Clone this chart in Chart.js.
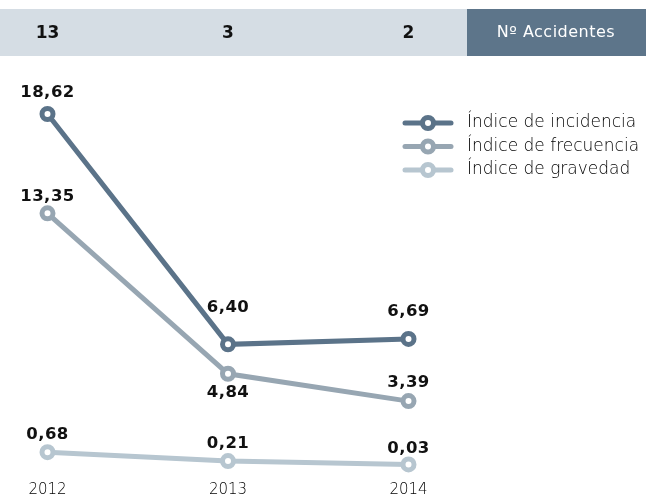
<!DOCTYPE html>
<html>
<head>
<meta charset="utf-8">
<script src="https://cdn.jsdelivr.net/npm/chart.js@4"></script>
<style>
  html, body { margin: 0; padding: 0; background: #ffffff; }
  #wrap { position: relative; width: 646px; height: 497px; }
</style>
</head>
<body>
<div id="wrap"><canvas id="c"></canvas></div>
<script>
// ---- data ----
const years = ['2012', '2013', '2014'];
const accidentes = [13, 3, 2];
const incidencia = [18.62, 6.40, 6.69];
const frecuencia = [13.35, 4.84, 3.39];
const gravedad = [0.68, 0.21, 0.03];
const seriesNames = ['Índice de incidencia', 'Índice de frecuencia', 'Índice de gravedad'];
const headerTitle = 'Nº Accidentes';

// ---- style ----
const colors = ['#5b7389', '#97a6b2', '#b7c6d0'];
const labelOffsets = [[-21, -37, -27], [-17, 19, -18], [-17, -17, -16]];
const fmt = v => v.toFixed(2).replace('.', ',');

const overlay = {
  id: 'overlay',
  beforeDraw(chart) {
    const ctx = chart.ctx;
    const xs = chart.scales.x;
    ctx.save();
    ctx.fillStyle = '#ffffff';
    ctx.fillRect(0, 0, chart.width, chart.height);
    // header band
    ctx.fillStyle = '#d5dde4';
    ctx.fillRect(0, 9, chart.width, 47);
    ctx.fillStyle = '#5d758a';
    ctx.fillRect(467, 9, chart.width - 467, 47);
    ctx.textAlign = 'center';
    ctx.textBaseline = 'middle';
    ctx.fillStyle = '#111111';
    ctx.font = 'bold 17px "DejaVu Sans"';
    accidentes.forEach((v, i) => {
      ctx.fillText(String(v), xs.getPixelForValue(i), 34);
    });
    ctx.fillStyle = '#ffffff';
    ctx.font = '16px "DejaVu Sans"';
    ctx.letterSpacing = '0.5px';
    ctx.fillText(headerTitle, 556, 33);
    ctx.restore();
  },
  afterDatasetsDraw(chart) {
    const ctx = chart.ctx;
    ctx.save();
    // value labels
    ctx.textAlign = 'center';
    ctx.textBaseline = 'middle';
    ctx.fillStyle = '#111111';
    ctx.font = 'bold 16.5px "DejaVu Sans"';
    ctx.letterSpacing = '0.5px';
    chart.data.datasets.forEach((ds, di) => {
      const meta = chart.getDatasetMeta(di);
      meta.data.forEach((pt, i) => {
        ctx.fillText(fmt(ds.data[i]), pt.x, pt.y + labelOffsets[di][i]);
      });
    });
    // legend
    ctx.letterSpacing = '0px';
    ctx.textAlign = 'left';
    chart.data.datasets.forEach((ds, di) => {
      const y = 123 + di * 23.5;
      ctx.strokeStyle = ds.borderColor;
      ctx.lineWidth = 5;
      ctx.lineCap = 'round';
      ctx.beginPath();
      ctx.moveTo(405, y);
      ctx.lineTo(451, y);
      ctx.stroke();
      ctx.beginPath();
      ctx.arc(428, y, 5.5, 0, Math.PI * 2);
      ctx.fillStyle = '#ffffff';
      ctx.fill();
      ctx.stroke();
      ctx.fillStyle = '#000000';
      ctx.font = '200 17px "DejaVu Sans"';
      ctx.fillText(ds.label, 467, y);
    });
    ctx.restore();
  }
};

const series = [incidencia, frecuencia, gravedad];
new Chart(document.getElementById('c'), {
  type: 'line',
  data: {
    labels: years,
    datasets: series.map((d, i) => ({
      label: seriesNames[i],
      data: d,
      borderColor: colors[i],
      backgroundColor: '#ffffff',
      pointBackgroundColor: '#ffffff',
      pointBorderColor: colors[i],
      borderWidth: 5,
      pointRadius: 5.5,
      pointBorderWidth: 5,
      tension: 0,
      clip: false,
      order: 3 - i
    }))
  },
  options: {
    responsive: true,
    maintainAspectRatio: false,
    animation: false,
    layout: { padding: { top: 88, left: 47.5, right: 237.5, bottom: -18 } },
    plugins: { legend: { display: false }, tooltip: { enabled: false } },
    scales: {
      x: {
        type: 'category',
        offset: false,
        grid: { display: false, drawTicks: false },
        border: { display: false },
        ticks: {
          padding: 16,
          color: '#000000',
          font: { family: '"DejaVu Sans"', size: 15, weight: '200' }
        }
      },
      y: { display: false, min: 0, max: 20 }
    }
  },
  plugins: [overlay]
});
</script>
</body>
</html>
